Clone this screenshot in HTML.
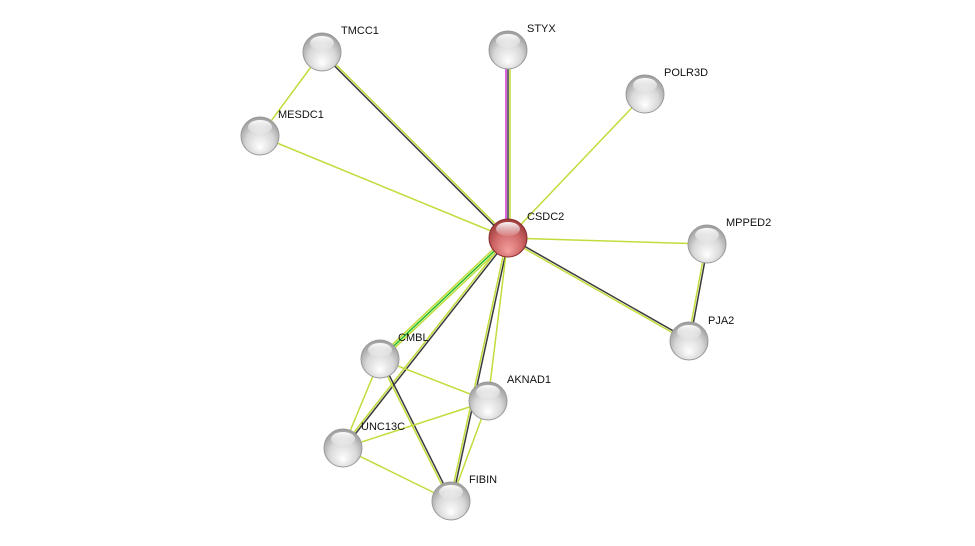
<!DOCTYPE html>
<html><head><meta charset="utf-8"><style>
html,body{margin:0;padding:0;background:#fff;width:975px;height:546px;overflow:hidden}
text{font-family:"Liberation Sans",sans-serif;font-size:11px;fill:#111}
</style></head><body>
<svg id="s" width="975" height="546" viewBox="0 0 975 546" xmlns="http://www.w3.org/2000/svg">
<defs>
<radialGradient id="g" cx="50%" cy="60%" r="60%" fx="50%" fy="80%">
<stop offset="0" stop-color="#ffffff"/><stop offset="0.6" stop-color="#d8d8d8"/><stop offset="1" stop-color="#9a9a9a"/></radialGradient>
<radialGradient id="r" cx="50%" cy="60%" r="60%" fx="50%" fy="85%">
<stop offset="0" stop-color="#f4a0a0"/><stop offset="0.6" stop-color="#d06868"/><stop offset="1" stop-color="#9a3a3a"/></radialGradient>
<linearGradient id="h" x1="0" y1="0" x2="0" y2="1"><stop offset="0" stop-color="#fff" stop-opacity="0.95"/><stop offset="1" stop-color="#fff" stop-opacity="0.1"/></linearGradient>
</defs>
<g id="edges"></g><g id="nodes"></g>
</svg>
<script>
var N={TMCC1:[322,52],STYX:[508,50],POLR3D:[645,94],MESDC1:[260,136],CSDC2:[508,238],MPPED2:[707,244],PJA2:[689,341],CMBL:[380,359],AKNAD1:[488,401],UNC13C:[343,448],FIBIN:[451,501]};
var Y="#c2dc3c",D="#3a3a3a",M="#d030d0",G="#22bb22";
var E=[["CSDC2","TMCC1",[D,Y]],["CSDC2","STYX",[M,D,Y]],["CSDC2","POLR3D",[Y]],["CSDC2","MESDC1",[Y]],["TMCC1","MESDC1",[Y]],
["CSDC2","MPPED2",[Y]],["CSDC2","PJA2",[D,Y]],["MPPED2","PJA2",[D,Y]],["CSDC2","CMBL",[Y,G,Y]],["CSDC2","UNC13C",[D,Y]],
["CSDC2","FIBIN",[D,Y]],["CSDC2","AKNAD1",[Y]],["CMBL","AKNAD1",[Y]],["CMBL","FIBIN",[D,Y]],["CMBL","UNC13C",[Y]],
["UNC13C","AKNAD1",[Y]],["UNC13C","FIBIN",[Y]],["AKNAD1","FIBIN",[Y]]];
var ns="http://www.w3.org/2000/svg",eg=document.getElementById("edges"),ng=document.getElementById("nodes");
E.forEach(function(e){var a=N[e[0]],b=N[e[1]],dx=b[0]-a[0],dy=b[1]-a[1],L=Math.hypot(dx,dy),px=-dy/L,py=dx/L,k=e[2].length;
e[2].forEach(function(c,i){var o=(i-(k-1)/2)*2;var l=document.createElementNS(ns,"line");
l.setAttribute("x1",a[0]+px*o);l.setAttribute("y1",a[1]+py*o);l.setAttribute("x2",b[0]+px*o);l.setAttribute("y2",b[1]+py*o);
l.setAttribute("stroke",c);l.setAttribute("stroke-width","1.5");eg.appendChild(l);});});
var lab={TMCC1:[341,34],STYX:[527,32],POLR3D:[664,76],MESDC1:[278,118],CSDC2:[527,220],MPPED2:[726,226],PJA2:[708,324],CMBL:[398,341],AKNAD1:[507,383],UNC13C:[361,430],FIBIN:[469,483]};
for(var n in N){var p=N[n],red=n=="CSDC2";
var c=document.createElementNS(ns,"circle");c.setAttribute("cx",p[0]);c.setAttribute("cy",p[1]);c.setAttribute("r",19);
c.setAttribute("fill",red?"url(#r)":"url(#g)");c.setAttribute("stroke",red?"#8a2a2a":"#9a9a9a");c.setAttribute("stroke-width","1");ng.appendChild(c);
var h=document.createElementNS(ns,"ellipse");h.setAttribute("cx",p[0]);h.setAttribute("cy",p[1]-9);h.setAttribute("rx",12);h.setAttribute("ry",7);h.setAttribute("fill","url(#h)");ng.appendChild(h);
var t=document.createElementNS(ns,"text");t.setAttribute("x",lab[n][0]);t.setAttribute("y",lab[n][1]);t.textContent=n;ng.appendChild(t);}
</script>
</body></html>
